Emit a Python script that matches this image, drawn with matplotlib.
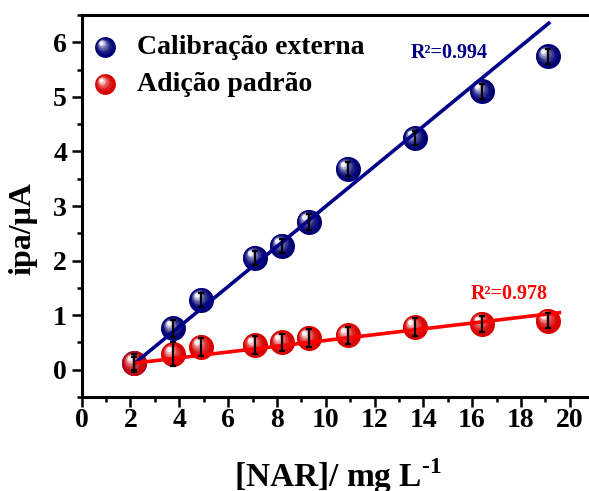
import matplotlib
matplotlib.use("Agg")
import matplotlib.pyplot as plt
import numpy as np
from matplotlib.colors import to_rgb
from matplotlib.transforms import offset_copy
from matplotlib.ticker import MultipleLocator

plt.rcParams['font.family'] = ['Liberation Serif', 'DejaVu Serif']
plt.rcParams['font.weight'] = 'bold'
plt.rcParams['mathtext.fontset'] = 'custom'
plt.rcParams['mathtext.rm'] = 'Liberation Serif:bold'
plt.rcParams['mathtext.bf'] = 'Liberation Serif:bold'

# concentration of NAR (mg/L)
conc = [2.15, 3.75, 4.9, 7.1, 8.2, 9.3, 10.9, 13.65, 16.4, 19.1]

# peak anodic current (uA)
ipa_ext = [0.12, 0.76, 1.28, 2.05, 2.27, 2.71, 3.68, 4.24, 5.10, 5.74]
err_ext = [0.12, 0.16, 0.13, 0.13, 0.13, 0.15, 0.13, 0.13, 0.14, 0.13]
ipa_add = [0.12, 0.28, 0.42, 0.45, 0.50, 0.58, 0.63, 0.78, 0.84, 0.90]
err_add = [0.17, 0.22, 0.17, 0.16, 0.16, 0.16, 0.16, 0.16, 0.15, 0.14]

# linear fits (slope, intercept, x range)
fit_ext = (0.3672, -0.679, 2.15, 19.2)
fit_add = (0.0531, 0.006, 2.15, 19.65)
r2_ext = "0.994"
r2_add = "0.978"

navy = '#000088'
red = '#ff0000'

fig = plt.figure(figsize=(5.89, 4.91), dpi=100)
ax = fig.add_axes([0.1387, 0.1914, 0.870, 0.778])


def sphere(x, y, color, size, trans, z=3):
    # layered discs to fake a shaded ball
    base = np.array(to_rgb(color))
    ax.scatter(x, y, s=size**2, color=base * 0.85, lw=0, transform=trans,
               zorder=z, clip_on=False)
    n = 8
    for k in range(1, n + 1):
        f = k / n
        d = size * (1 - 0.8 * f)
        c = base * 0.85 + (np.ones(3) - base * 0.85) * (f ** 2.2) * 0.95
        off = offset_copy(trans, fig=fig, x=-0.18 * size * f,
                          y=0.2 * size * f, units='points')
        ax.scatter(x, y, s=d**2, color=c, lw=0, transform=off,
                   zorder=z + 0.01 * k, clip_on=False)


sphere(conc, ipa_ext, navy, 18, ax.transData)
sphere(conc, ipa_add, red, 18, ax.transData)

for (m, b, x0, x1), col in [(fit_ext, navy), (fit_add, red)]:
    xs = np.array([x0, x1])
    ax.plot(xs, m * xs + b, color=col, lw=2.6, zorder=4, solid_capstyle='butt')

ax.errorbar(conc, ipa_ext, yerr=err_ext, fmt='none', ecolor='black',
            elinewidth=1.6, capsize=2.5, capthick=1.6, zorder=6)
ax.errorbar(conc, ipa_add, yerr=err_add, fmt='none', ecolor='black',
            elinewidth=1.6, capsize=2.5, capthick=1.6, zorder=6)

# legend drawn by hand so the balls keep their shading
sphere([0.0455], [0.916], navy, 15, ax.transAxes, z=7)
sphere([0.0455], [0.819], red, 15, ax.transAxes, z=7)
ax.text(0.108, 0.916, 'Calibração externa', transform=ax.transAxes,
        fontsize=20, fontweight='bold', va='center', ha='left')
ax.text(0.108, 0.819, 'Adição padrão', transform=ax.transAxes,
        fontsize=20, fontweight='bold', va='center', ha='left')

ax.text(13.5, 5.80, 'R²=' + r2_ext, color=navy, fontsize=14.5,
        fontweight='bold', va='center', ha='left')
ax.text(15.95, 1.38, 'R²=' + r2_add, color=red, fontsize=14.5,
        fontweight='bold', va='center', ha='left')

ax.set_xlim(0, 21)
ax.set_ylim(-0.5, 6.5)
ax.xaxis.set_major_locator(MultipleLocator(2))
ax.xaxis.set_minor_locator(MultipleLocator(1))
ax.yaxis.set_major_locator(MultipleLocator(1))
ax.yaxis.set_minor_locator(MultipleLocator(0.5))
ax.set_xticks(np.arange(0, 21, 2))

for s in ax.spines.values():
    s.set_linewidth(2.2)
ax.tick_params(which='major', direction='out', length=7.5, width=1.8,
               labelsize=20, top=False, right=False)
ax.tick_params(which='minor', direction='out', length=3.7, width=1.8,
               top=False, right=False)
ax.tick_params(axis='y', which='major', pad=3)
ax.tick_params(axis='x', which='major', pad=0.5)
for lab in ax.get_xticklabels() + ax.get_yticklabels():
    lab.set_fontweight('bold')

ax.set_xlabel(r'[NAR]/ mg L$^{\text{-1}}$', fontsize=24, fontweight='bold')
ax.set_ylabel('ipa/μA', fontsize=23, fontweight='bold')
ax.xaxis.set_label_coords(0.5, -0.155)
ax.yaxis.set_label_coords(-0.087, 0.442)

fig.savefig('out.png', dpi=100)
